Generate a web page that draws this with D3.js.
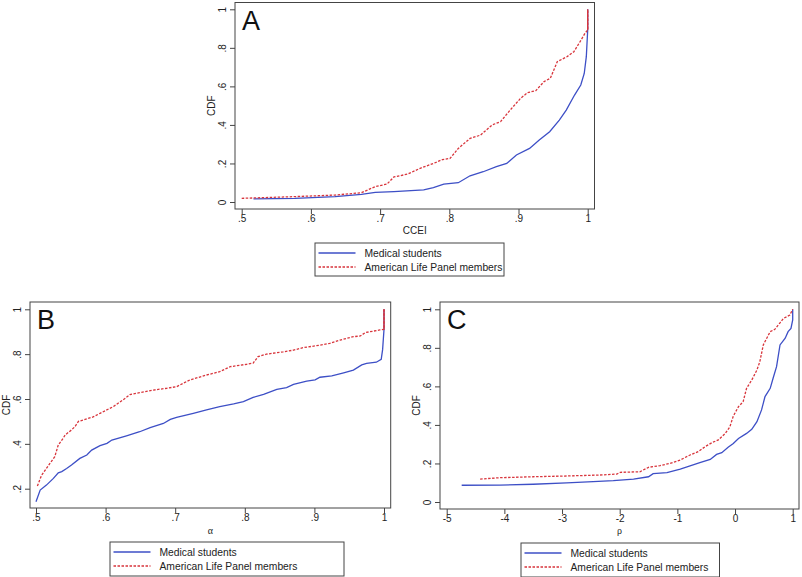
<!DOCTYPE html>
<html>
<head>
<meta charset="utf-8">
<script src="https://cdn.jsdelivr.net/npm/d3@7"></script>
<style>
body { margin: 0; background: #fff; }
text { font-family: "Liberation Sans", Arial, sans-serif; fill: #222; }
</style>
</head>
<body>
<svg id="chart" width="802" height="577"></svg>
<script>
// ------- values -------
var series_names = ["Medical students", "American Life Panel members"];

// panel A : CCEI
var ccei_xticks = [.5, .6, .7, .8, .9, 1];
var ccei_yticks = [0, .2, .4, .6, .8, 1];
var ccei_med = [[.517,.016],[.577,.019],[.635,.028],[.673,.04],[.693,.05],[.72,.054],[.763,.063],
    [.777,.075],[.792,.093],[.813,.1],[.83,.136],[.849,.157],[.868,.183],[.883,.2],[.897,.244],
    [.916,.278],[.93,.322],[.945,.365],[.959,.425],[.969,.477],[.981,.555],[.99,.607],[.995,.667],
    [.998,.754],[1,.893],[1,1]];
var ccei_alp = [[.5,.019],[.577,.028],[.635,.036],[.673,.048],[.693,.08],[.71,.093],[.72,.13],
    [.74,.145],[.758,.175],[.777,.2],[.79,.22],[.801,.226],[.813,.278],[.83,.33],[.845,.347],
    [.862,.4],[.874,.417],[.888,.477],[.903,.538],[.913,.567],[.925,.578],[.937,.625],[.946,.642],
    [.956,.728],[.97,.754],[.98,.78],[.989,.832],[.996,.875],[1,.893],[1,1]];

// panel B : alpha
var alpha_xticks = [.5, .6, .7, .8, .9, 1];
var alpha_yticks = [.2, .4, .6, .8, 1];
var alpha_med = [[.5,.142],[.506,.194],[.515,.216],[.525,.246],[.532,.271],[.537,.276],[.544,.29],
    [.551,.306],[.563,.335],[.573,.35],[.58,.372],[.592,.392],[.602,.402],[.609,.417],[.63,.436],
    [.649,.454],[.664,.472],[.683,.491],[.693,.509],[.702,.518],[.726,.536],[.745,.551],[.764,.566],
    [.784,.578],[.798,.588],[.812,.607],[.827,.621],[.846,.643],[.86,.651],[.87,.665],[.889,.68],
    [.901,.685],[.908,.697],[.925,.703],[.942,.717],[.956,.729],[.968,.752],[.975,.759],[.989,.764],
    [.996,.777],[.998,.82],[1,.91],[1,1]];
var alpha_alp = [[.502,.212],[.508,.26],[.52,.313],[.527,.343],[.532,.395],[.539,.425],[.542,.44],
    [.551,.462],[.556,.477],[.561,.5],[.582,.52],[.592,.536],[.611,.566],[.625,.596],[.635,.62],
    [.649,.628],[.669,.64],[.688,.648],[.702,.655],[.721,.685],[.745,.707],[.764,.722],[.779,.744],
    [.803,.755],[.812,.76],[.819,.789],[.831,.8],[.855,.81],[.87,.818],[.884,.829],[.908,.84],
    [.922,.848],[.937,.863],[.956,.878],[.966,.881],[.973,.896],[.994,.908],[1,.91],[1,1]];

// panel C : rho
var rho_xticks = [-5, -4, -3, -2, -1, 0, 1];
var rho_yticks = [0, .2, .4, .6, .8, 1];
var rho_med = [[-4.74,.087],[-4.08,.088],[-3.5,.092],[-2.92,.099],[-2.46,.106],[-2.11,.111],
    [-1.76,.119],[-1.5,.131],[-1.42,.147],[-1.18,.152],[-.95,.171],[-.78,.187],[-.61,.204],
    [-.43,.221],[-.32,.247],[-.23,.256],[-.12,.284],[-.03,.304],[.06,.33],[.2,.356],[.29,.377],
    [.38,.417],[.46,.478],[.52,.547],[.61,.59],[.66,.642],[.72,.702],[.78,.815],[.87,.85],
    [.92,.884],[.97,.901],[1,.945],[1,1]];
var rho_alp = [[-4.42,.119],[-4.08,.126],[-3.5,.131],[-2.92,.135],[-2.34,.14],[-2.05,.145],
    [-1.99,.154],[-1.65,.157],[-1.5,.18],[-1.3,.189],[-1.13,.2],[-.95,.218],[-.78,.244],
    [-.64,.261],[-.52,.287],[-.4,.308],[-.29,.322],[-.17,.356],[-.09,.39],[-.03,.446],[.06,.495],
    [.14,.52],[.2,.59],[.29,.633],[.38,.685],[.43,.728],[.49,.815],[.55,.85],[.61,.884],
    [.69,.896],[.78,.93],[.84,.953],[.95,.97],[1,1]];

var blue = "#3d4fc6";
var red = "#d8353c";
var ink = "#444";

var svg = d3.select("#chart");
svg.append("rect").attr("width", 802).attr("height", 577).attr("fill", "#fff");

// stata style tick labels: ".5" not "0.5"
function fmt(d) {
    return String(d).replace(/^0\./, ".").replace(/^-0\./, "-.");
}

function drawPanel(p) {
    var g = svg.append("g");
    var x = d3.scaleLinear().domain(p.xDomain).range(p.xRange);
    var y = d3.scaleLinear().domain(p.yDomain).range(p.yRange);

    var xAxis = g.append("g")
        .attr("transform", "translate(0," + p.bottom + ")")
        .call(d3.axisBottom(x).tickValues(p.xTicks).tickSize(5).tickFormat(fmt));
    xAxis.select(".domain").remove();
    xAxis.selectAll("line").attr("stroke", ink);
    xAxis.selectAll("text")
        .attr("y", 13).attr("dy", 0)
        .style("font-family", '"Liberation Sans", Arial, sans-serif')
        .style("font-size", "10px").style("fill", "#222");

    var yAxis = g.append("g")
        .attr("transform", "translate(" + p.left + ",0)")
        .call(d3.axisLeft(y).tickValues(p.yTicks).tickSize(5).tickFormat(fmt));
    yAxis.select(".domain").remove();
    yAxis.selectAll("line").attr("stroke", ink);
    yAxis.selectAll("text")
        .attr("x", 0).attr("dy", 0)
        .attr("transform", "translate(-9.5,0) rotate(-90)")
        .attr("text-anchor", "middle")
        .style("font-family", '"Liberation Sans", Arial, sans-serif')
        .style("font-size", "10px").style("fill", "#222");

    // frame
    g.append("rect")
        .attr("x", p.left).attr("y", p.top)
        .attr("width", p.right - p.left).attr("height", p.bottom - p.top)
        .attr("fill", "none").attr("stroke", ink).attr("stroke-width", 1);

    var line = d3.line()
        .x(function (d) { return x(d[0]); })
        .y(function (d) { return y(d[1]); });

    g.append("path").datum(p.med)
        .attr("d", line).attr("fill", "none")
        .attr("stroke", blue).attr("stroke-width", 1.3);
    g.append("path").datum(p.alp)
        .attr("d", line).attr("fill", "none")
        .attr("stroke", red).attr("stroke-width", 1.3)
        .attr("stroke-dasharray", "2.5,1.5");
    if (p.jump) {
        // final jump at 1 looks solid in the original
        g.append("path").datum(p.alp.slice(-2))
            .attr("d", line).attr("fill", "none")
            .attr("stroke", red).attr("stroke-width", 1.3);
    }

    // panel letter
    g.append("text")
        .attr("x", p.left + 7).attr("y", p.top + 27)
        .style("font-size", "27px").style("fill", "#111")
        .text(p.letter);

    // axis titles
    g.append("text")
        .attr("transform", "translate(" + p.yTitleX + "," + (p.top + p.bottom) / 2 + ") rotate(-90)")
        .attr("text-anchor", "middle")
        .style("font-size", "10px")
        .text("CDF");
    g.append("text")
        .attr("x", (p.left + p.right) / 2).attr("y", p.xTitleY)
        .attr("text-anchor", "middle")
        .style("font-size", p.xTitleSize)
        .style("font-family", p.xTitleFont)
        .text(p.xTitle);

    // legend
    var L = p.legend;
    var lg = g.append("g").attr("transform", "translate(" + L.x + "," + L.y + ")");
    lg.append("rect")
        .attr("x", 0.5).attr("y", 0.5)
        .attr("width", L.w).attr("height", L.h)
        .attr("fill", "#fff").attr("stroke", ink);
    series_names.forEach(function (name, i) {
        var yy = 10.5 + i * 14;
        lg.append("line")
            .attr("x1", 4).attr("x2", 41).attr("y1", yy).attr("y2", yy)
            .attr("stroke", i == 0 ? blue : red).attr("stroke-width", 1.3)
            .attr("stroke-dasharray", i == 0 ? null : "2.5,1.5");
        lg.append("text")
            .attr("x", 50).attr("y", yy + 3.6)
            .style("font-size", "10.3px")
            .text(name);
    });
}

drawPanel({
    letter: "A", left: 235, right: 594.5, top: 2.5, bottom: 209,
    xDomain: [.5, 1], xRange: [241.7, 587.7], yDomain: [0, 1], yRange: [202, 9.3],
    xTicks: ccei_xticks, yTicks: ccei_yticks, med: ccei_med, alp: ccei_alp, jump: true,
    yTitleX: 215, xTitle: "CCEI", xTitleY: 234, xTitleSize: "10px",
    xTitleFont: '"Liberation Sans", Arial, sans-serif',
    legend: { x: 314.5, y: 242.5, w: 189, h: 33 }
});

drawPanel({
    letter: "B", left: 30, right: 390.7, top: 302, bottom: 508,
    xDomain: [.5, 1], xRange: [36, 384], yDomain: [.2, 1], yRange: [488.7, 309.3],
    xTicks: alpha_xticks, yTicks: alpha_yticks, med: alpha_med, alp: alpha_alp, jump: true,
    yTitleX: 10, xTitle: "\u03b1", xTitleY: 533.5, xTitleSize: "10px",
    xTitleFont: '"Liberation Serif", "DejaVu Serif", serif',
    legend: { x: 109.5, y: 541.5, w: 234, h: 34 }
});

drawPanel({
    letter: "C", left: 440, right: 799, top: 302, bottom: 509,
    xDomain: [-5, 1], xRange: [446.7, 792.7], yDomain: [0, 1], yRange: [502, 309.3],
    xTicks: rho_xticks, yTicks: rho_yticks, med: rho_med, alp: rho_alp, jump: false,
    yTitleX: 420, xTitle: "\u03c1", xTitleY: 533.5, xTitleSize: "10px",
    xTitleFont: '"Liberation Serif", "DejaVu Serif", serif',
    legend: { x: 520.5, y: 542.5, w: 198.5, h: 34 }
});
</script>
</body>
</html>
